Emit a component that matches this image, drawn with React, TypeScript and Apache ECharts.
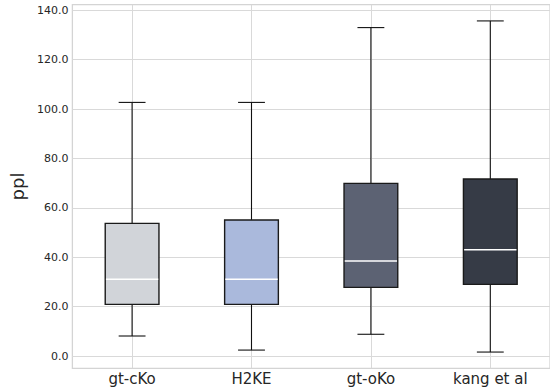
import React, { useEffect, useRef } from "react";
import * as echarts from "echarts";

const categories = ["gt-cKo", "H2KE", "gt-oKo", "kang et al"];
const lowWhisker = [8.1, 2.4, 8.8, 1.6];
const q1 = [20.9, 20.9, 27.8, 29.0];
const median = [31.1, 31.1, 38.5, 43.0];
const q3 = [53.7, 55.1, 69.9, 71.7];
const highWhisker = [102.7, 102.7, 133.0, 135.7];
const boxColors = ["#d1d4d9", "#aab9dc", "#5c6273", "#363b46"];
const yTicks = [0, 20, 40, 60, 80, 100, 120, 140];
const xTicks = categories.map((_, i) => i);

const FONT = "DejaVu Sans";

export default function App() {
  const ref = useRef<HTMLDivElement>(null);
  useEffect(() => {
    if (!ref.current) return;
    const chart = echarts.init(ref.current, null, { renderer: "svg" });
    const data = categories.map((_, i) => [i, lowWhisker[i], q1[i], median[i], q3[i], highWhisker[i]]);
    chart.setOption({
      animation: false,
      backgroundColor: "#ffffff",
      grid: {
        show: true,
        left: 71,
        top: 4.7,
        width: 483,
        height: 363.6,
        borderColor: "#d4d4d4",
        borderWidth: 1.3,
        containLabel: false,
      },
      xAxis: {
        type: "value",
        min: -0.5,
        max: categories.length - 0.5,
        axisLine: { show: false },
        axisTick: { show: false, customValues: xTicks },
        splitLine: { show: true, lineStyle: { color: "#d9d9d9", width: 1 } },
        axisLabel: {
          customValues: xTicks,
          fontFamily: FONT,
          fontSize: 15,
          color: "#262626",
          margin: 3,
          formatter: (v: number) => categories[Math.round(v)] ?? "",
        },
      },
      yAxis: {
        type: "value",
        min: -4.98,
        max: 142.27,
        name: "ppl",
        nameLocation: "middle",
        nameGap: 28,
        nameTextStyle: { fontFamily: FONT, fontSize: 18, color: "#262626" },
        axisLine: { show: false },
        axisTick: { show: false, customValues: yTicks },
        splitLine: { show: true, lineStyle: { color: "#d9d9d9", width: 1 } },
        axisLabel: {
          customValues: yTicks,
          fontFamily: FONT,
          fontSize: 11,
          color: "#262626",
          margin: 4,
          formatter: (v: number) => v.toFixed(1),
        },
      },
      series: [
        {
          type: "custom",
          data,
          encode: { x: 0, y: [1, 2, 3, 4, 5] },
          renderItem: (params: any, api: any) => {
            const x = api.value(0);
            const pLow = api.coord([x, api.value(1)]);
            const pQ1 = api.coord([x, api.value(2)]);
            const pMed = api.coord([x, api.value(3)]);
            const pQ3 = api.coord([x, api.value(4)]);
            const pHigh = api.coord([x, api.value(5)]);
            const band = api.size([1, 0])[0];
            const bw = band * 0.45;
            const cw = bw * 0.5;
            const cx = pQ1[0];
            const color = boxColors[params.dataIndex];
            const wStyle = { stroke: "#111111", lineWidth: 1.1 };
            return {
              type: "group",
              children: [
                { type: "line", shape: { x1: cx, y1: pLow[1], x2: cx, y2: pQ1[1] }, style: wStyle },
                { type: "line", shape: { x1: cx, y1: pQ3[1], x2: cx, y2: pHigh[1] }, style: wStyle },
                { type: "line", shape: { x1: cx - cw / 2, y1: pLow[1], x2: cx + cw / 2, y2: pLow[1] }, style: wStyle },
                { type: "line", shape: { x1: cx - cw / 2, y1: pHigh[1], x2: cx + cw / 2, y2: pHigh[1] }, style: wStyle },
                {
                  type: "rect",
                  shape: { x: cx - bw / 2, y: pQ3[1], width: bw, height: pQ1[1] - pQ3[1] },
                  style: { fill: color, stroke: "#1a1a1a", lineWidth: 1.4 },
                },
                {
                  type: "line",
                  shape: { x1: cx - bw / 2 + 0.7, y1: pMed[1], x2: cx + bw / 2 - 0.7, y2: pMed[1] },
                  style: { stroke: "#ffffff", lineWidth: 1.6 },
                },
              ],
            };
          },
        },
      ],
    });
    return () => chart.dispose();
  }, []);
  return <div ref={ref} style={{ position: "fixed", left: 0, top: 0, width: 550, height: 389 }} />;
}
